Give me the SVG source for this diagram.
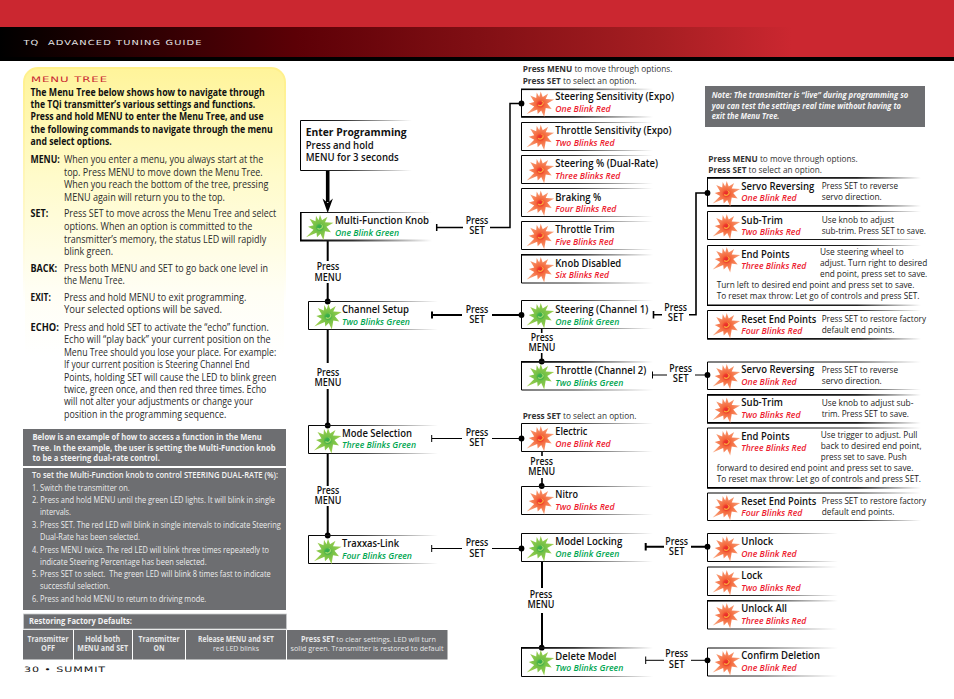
<svg xmlns="http://www.w3.org/2000/svg" width="954" height="699" viewBox="0 0 954 699">
<style>
text{font-family:"Open Sans","Liberation Sans",sans-serif;fill:#1a1a1a}
.x{font-family:"DejaVu Sans","Liberation Sans",sans-serif}
.hd{font-size:7px;fill:#e8e8e8;letter-spacing:.8px}
.mt{font-size:7.6px;fill:#c8242f;letter-spacing:.6px}
.pg{font-size:7.4px;fill:#111;letter-spacing:.6px}
.in{font-size:10.4px;font-weight:700;fill:#111}
.lb{font-size:10px;font-weight:700;fill:#111}
.bd{font-size:10px;fill:#2b2b2b}
.w1{font-size:8.6px;font-weight:700;fill:#f1f1f2}
.w2{font-size:9.6px;fill:#eceded}
.w2b{font-size:9.6px;font-weight:600;fill:#f4f4f4}
.w3{font-size:8px;font-weight:700;fill:#e6e7e8;text-anchor:middle}
.w4{font-size:8px;fill:#e6e7e8;text-anchor:middle}
.w5{font-size:8px;font-weight:700;font-style:italic;fill:#f4f4f4}
.nt{font-size:9px;fill:#333}
.t{font-size:10.2px;font-weight:600;fill:#111}
.t2{font-size:10.2px;font-weight:700;fill:#111}
.s{font-size:9px;font-weight:600;font-style:italic}
.r{fill:#ed1c30}
.g{fill:#00a651}
.d{font-size:8.8px;fill:#222}
.l{font-size:9.8px;font-weight:600;fill:#111;text-anchor:middle}
.fr{fill:none;stroke-width:1}
.f1{stroke:url(#fs)}
.f2{stroke:url(#fl)}
.e1{fill:url(#fs)}
.e2{fill:url(#fl)}
.c{fill:none;stroke:#000}
.dot{fill:#000}
.b{fill:#6d6e71}
</style>
<defs>
<linearGradient id="hdg" x1="0" y1="0" x2="1" y2="0"><stop offset="0" stop-color="#000"/><stop offset=".04" stop-color="#0c0000"/><stop offset=".31" stop-color="#5c0006"/><stop offset=".69" stop-color="#a61e22"/><stop offset=".83" stop-color="#cb2730"/><stop offset="1" stop-color="#cb2730"/></linearGradient>
<linearGradient id="yel" x1="0" y1="0" x2="0" y2="1"><stop offset="0" stop-color="#fff49a"/><stop offset=".3" stop-color="#fffbca"/><stop offset=".62" stop-color="#fffef4"/><stop offset=".8" stop-color="#fff"/></linearGradient>
<linearGradient id="yels" x1="0" y1="0" x2="0" y2="1"><stop offset="0" stop-color="#fff08a"/><stop offset=".4" stop-color="#fff8c8"/><stop offset=".65" stop-color="#fff"/></linearGradient>
<linearGradient id="fs" x1="0" y1="0" x2="1" y2="0"><stop offset="0" stop-color="#000"/><stop offset=".4" stop-color="#333"/><stop offset="1" stop-color="#fff"/></linearGradient>
<linearGradient id="fl" x1="0" y1="0" x2="1" y2="0"><stop offset="0" stop-color="#000"/><stop offset=".7" stop-color="#222"/><stop offset="1" stop-color="#fff"/></linearGradient>
<radialGradient id="rr"><stop offset="0" stop-color="#e8262c"/><stop offset=".18" stop-color="#ee3a2c"/><stop offset=".32" stop-color="#f4683c"/><stop offset="1" stop-color="#f9a27a"/></radialGradient>
<radialGradient id="gg"><stop offset="0" stop-color="#2fa84f"/><stop offset=".18" stop-color="#3fb04a"/><stop offset=".32" stop-color="#72c046"/><stop offset="1" stop-color="#a0d050"/></radialGradient>
<polygon id="spk" points="0,-12 2,-6.5 7.5,-10 5,-4.5 13.5,-4 6.5,0 11,5.5 5,4.5 3.5,13.5 .5,7 -3,10.5 -3.5,6 -14,10.5 -6.5,3 -12,0 -6.5,-1.5 -10.5,-8 -4.5,-5.5 -4,-11 -1.5,-6.5"/>
<g id="br"><use href="#spk" fill="url(#rr)"/><path d="M-2.5,1.5A3,3 0 0 0 2.5,-1" fill="none" stroke="#fbb03b" stroke-width="1.2"/><path d="M1,-2.5l1.5,1.5" stroke="#fbb03b" stroke-width="1"/></g>
<g id="bg"><use href="#spk" fill="url(#gg)"/><path d="M-2.5,1.5A3,3 0 0 0 2.5,-1" fill="none" stroke="#a6d96a" stroke-width="1.2"/><path d="M1,-2.5l1.5,1.5" stroke="#a6d96a" stroke-width="1"/></g>
</defs>
<rect width="954" height="699" fill="#fff"/>
<g id="header">
<rect width="954" height="27" fill="#cb2730"/>
<rect y="27" width="954" height="30" fill="url(#hdg)"/>
<rect y="57" width="954" height="4" fill="#000"/>
<text class="x hd" x="23.5" y="45" xml:space="preserve" textLength="179" lengthAdjust="spacingAndGlyphs">TQ  ADVANCED TUNING GUIDE</text>
</g>
<g id="menu-tree-panel">
<rect x="24" y="68" width="261" height="360" rx="14" fill="url(#yel)" stroke="url(#yels)" stroke-width="2"/>
<text class="x mt" x="31" y="82" textLength="77" lengthAdjust="spacingAndGlyphs">MENU TREE</text>
<text class="in" x="30.5" y="95.5" textLength="234.3" lengthAdjust="spacingAndGlyphs">The Menu Tree below shows how to navigate through</text>
<text class="in" x="30.5" y="107.5" textLength="224.7" lengthAdjust="spacingAndGlyphs">the TQi transmitter’s various settings and functions.</text>
<text class="in" x="30.5" y="120" textLength="233" lengthAdjust="spacingAndGlyphs">Press and hold MENU to enter the Menu Tree, and use</text>
<text class="in" x="30.5" y="132.5" textLength="242.3" lengthAdjust="spacingAndGlyphs">the following commands to navigate through the menu</text>
<text class="in" x="30.5" y="145" textLength="81.3" lengthAdjust="spacingAndGlyphs">and select options.</text>
<text class="lb" x="30.5" y="163" textLength="29.3" lengthAdjust="spacingAndGlyphs">MENU:</text>
<text class="bd" x="64" y="163" textLength="199.3" lengthAdjust="spacingAndGlyphs">When you enter a menu, you always start at the</text>
<text class="bd" x="64" y="176" textLength="198.7" lengthAdjust="spacingAndGlyphs">top. Press MENU to move down the Menu Tree.</text>
<text class="bd" x="64" y="188" textLength="204.3" lengthAdjust="spacingAndGlyphs">When you reach the bottom of the tree, pressing</text>
<text class="bd" x="64" y="200.5" textLength="161" lengthAdjust="spacingAndGlyphs">MENU again will return you to the top.</text>
<text class="lb" x="30.5" y="217" textLength="17.7" lengthAdjust="spacingAndGlyphs">SET:</text>
<text class="bd" x="64" y="217" textLength="212.3" lengthAdjust="spacingAndGlyphs">Press SET to move across the Menu Tree and select</text>
<text class="bd" x="64" y="230" textLength="188.3" lengthAdjust="spacingAndGlyphs">options. When an option is committed to the</text>
<text class="bd" x="64" y="242.5" textLength="202.3" lengthAdjust="spacingAndGlyphs">transmitter’s memory, the status LED will rapidly</text>
<text class="bd" x="64" y="255" textLength="49" lengthAdjust="spacingAndGlyphs">blink green.</text>
<text class="lb" x="30.5" y="271.5" textLength="26.7" lengthAdjust="spacingAndGlyphs">BACK:</text>
<text class="bd" x="64" y="271.5" textLength="204" lengthAdjust="spacingAndGlyphs">Press both MENU and SET to go back one level in</text>
<text class="bd" x="64" y="284" textLength="60.7" lengthAdjust="spacingAndGlyphs">the Menu Tree.</text>
<text class="lb" x="30.5" y="300.7" textLength="20.3" lengthAdjust="spacingAndGlyphs">EXIT:</text>
<text class="bd" x="64" y="300.7" textLength="182.3" lengthAdjust="spacingAndGlyphs">Press and hold MENU to exit programming.</text>
<text class="bd" x="64" y="313.3" textLength="158" lengthAdjust="spacingAndGlyphs">Your selected options will be saved.</text>
<text class="lb" x="30.5" y="330.5" textLength="28.3" lengthAdjust="spacingAndGlyphs">ECHO:</text>
<text class="bd" x="64" y="330.5" textLength="204.7" lengthAdjust="spacingAndGlyphs">Press and hold SET to activate the “echo” function.</text>
<text class="bd" x="64" y="343" textLength="206.7" lengthAdjust="spacingAndGlyphs">Echo will “play back” your current position on the</text>
<text class="bd" x="64" y="355.5" textLength="212.3" lengthAdjust="spacingAndGlyphs">Menu Tree should you lose your place. For example:</text>
<text class="bd" x="64" y="368" textLength="185.7" lengthAdjust="spacingAndGlyphs">If your current position is Steering Channel End</text>
<text class="bd" x="64" y="380.5" textLength="212.3" lengthAdjust="spacingAndGlyphs">Points, holding SET will cause the LED to blink green</text>
<text class="bd" x="64" y="392.5" textLength="202.3" lengthAdjust="spacingAndGlyphs">twice, green once, and then red three times. Echo</text>
<text class="bd" x="64" y="405" textLength="189" lengthAdjust="spacingAndGlyphs">will not alter your adjustments or change your</text>
<text class="bd" x="64" y="417.5" textLength="162.3" lengthAdjust="spacingAndGlyphs">position in the programming sequence.</text>
</g>
<g id="example-intro">
<rect class="b" x="23" y="429" width="263" height="37"/>
<text class="w1" x="32.5" y="440" textLength="229.3" lengthAdjust="spacingAndGlyphs">Below is an example of how to access a function in the Menu</text>
<text class="w1" x="32.5" y="450.5" textLength="243" lengthAdjust="spacingAndGlyphs">Tree. In the example, the user is setting the Multi-Function knob</text>
<text class="w1" x="32.5" y="461" textLength="127.3" lengthAdjust="spacingAndGlyphs">to be a steering dual-rate control.</text>
</g>
<g id="example-steps">
<rect class="b" x="23" y="468" width="263" height="142"/>
<text class="w2b" x="32" y="478" textLength="246" lengthAdjust="spacingAndGlyphs">To set the Multi-Function knob to control STEERING DUAL-RATE (%):</text>
<text class="w2" x="32" y="490.7" textLength="97.7" lengthAdjust="spacingAndGlyphs">1. Switch the transmitter on.</text>
<text class="w2" x="32" y="502.7" textLength="243" lengthAdjust="spacingAndGlyphs">2. Press and hold MENU until the green LED lights. It will blink in single</text>
<text class="w2" x="40" y="515" textLength="31" lengthAdjust="spacingAndGlyphs">intervals.</text>
<text class="w2" x="32" y="527.7" textLength="248.7" lengthAdjust="spacingAndGlyphs">3. Press SET. The red LED will blink in single intervals to indicate Steering</text>
<text class="w2" x="40" y="540" textLength="100" lengthAdjust="spacingAndGlyphs">Dual-Rate has been selected.</text>
<text class="w2" x="32" y="552.7" textLength="237" lengthAdjust="spacingAndGlyphs">4. Press MENU twice. The red LED will blink three times repeatedly to</text>
<text class="w2" x="40" y="564.7" textLength="166.7" lengthAdjust="spacingAndGlyphs">indicate Steering Percentage has been selected.</text>
<text class="w2" x="32" y="577.3" textLength="238.7" lengthAdjust="spacingAndGlyphs" xml:space="preserve">5. Press SET to select.  The green LED will blink 8 times fast to indicate</text>
<text class="w2" x="40" y="589.3" textLength="70" lengthAdjust="spacingAndGlyphs">successful selection.</text>
<text class="w2" x="32" y="602.3" textLength="174.3" lengthAdjust="spacingAndGlyphs">6. Press and hold MENU to return to driving mode.</text>
</g>
<g id="factory-defaults">
<rect class="b" x="23.5" y="614" width="263" height="15" stroke="#c9cacc" stroke-width=".8"/>
<text class="w1" x="29" y="623.5" style="font-size:8.2px" textLength="103" lengthAdjust="spacingAndGlyphs">Restoring Factory Defaults:</text>
<rect class="b" x="23" y="630" width="50" height="29.5"/>
<rect class="b" x="74" y="630" width="58" height="29.5"/>
<rect class="b" x="133" y="630" width="52" height="29.5"/>
<rect class="b" x="186" y="630" width="100" height="29.5"/>
<rect class="b" x="287" y="630" width="160.5" height="29.5"/>
<text class="w3" x="48" y="641.5" textLength="41" lengthAdjust="spacingAndGlyphs">Transmitter</text>
<text class="w3" x="48" y="650.5" textLength="14" lengthAdjust="spacingAndGlyphs">OFF</text>
<text class="w3" x="102.7" y="641.5" textLength="35" lengthAdjust="spacingAndGlyphs">Hold both</text>
<text class="w3" x="102.7" y="650.5" textLength="51" lengthAdjust="spacingAndGlyphs">MENU and SET</text>
<text class="w3" x="159" y="641.5" textLength="41" lengthAdjust="spacingAndGlyphs">Transmitter</text>
<text class="w3" x="159" y="650.5" textLength="11" lengthAdjust="spacingAndGlyphs">ON</text>
<text class="w3" x="236" y="641.5" textLength="76" lengthAdjust="spacingAndGlyphs">Release MENU and SET</text>
<text class="w4" x="236" y="650.5" textLength="46" lengthAdjust="spacingAndGlyphs">red LED blinks</text>
<text class="w4" x="368.5" y="641.5" textLength="135" lengthAdjust="spacingAndGlyphs"><tspan font-weight="700">Press SET</tspan> to clear settings. LED will turn</text>
<text class="w4" x="367" y="650.5" textLength="153" lengthAdjust="spacingAndGlyphs">solid green. Transmitter is restored to default</text>
</g>
<text id="page-number" class="x pg" x="24" y="671.7" textLength="82" lengthAdjust="spacingAndGlyphs">30 • SUMMIT</text>
<g id="note">
<rect class="b" x="705" y="86" width="220" height="41"/>
<text class="w5" x="711.7" y="98" textLength="196.7" lengthAdjust="spacingAndGlyphs">Note: The transmitter is “live” during programming so</text>
<text class="w5" x="711.7" y="108.7" textLength="189.3" lengthAdjust="spacingAndGlyphs">you can test the settings real time without having to</text>
<text class="w5" x="711.7" y="118.7" textLength="67.7" lengthAdjust="spacingAndGlyphs">exit the Menu Tree.</text>
</g>
<g id="hints">
<text class="nt" x="522.7" y="71.7" textLength="149.7" lengthAdjust="spacingAndGlyphs"><tspan font-weight="700">Press MENU</tspan> to move through options.</text>
<text class="nt" x="522.7" y="83.7" textLength="113.7" lengthAdjust="spacingAndGlyphs"><tspan font-weight="700">Press SET</tspan> to select an option.</text>
<text class="nt" x="708.3" y="161.7" textLength="149.3" lengthAdjust="spacingAndGlyphs"><tspan font-weight="700">Press MENU</tspan> to move through options.</text>
<text class="nt" x="708.3" y="172.7" textLength="113.7" lengthAdjust="spacingAndGlyphs"><tspan font-weight="700">Press SET</tspan> to select an option.</text>
<text class="nt" x="522.7" y="418.7" textLength="113.7" lengthAdjust="spacingAndGlyphs"><tspan font-weight="700">Press SET</tspan> to select an option.</text>
</g>
<g id="connectors">
<path class="c" stroke-width="3.6" d="M327.7,170V202"/>
<polygon class="dot" points="322.5,198.5 327.7,203 332.9,198.5 327.7,213"/>
<path class="c" stroke-width="2" d="M327.7,240V261M327.7,283V301M327.7,329V363M327.7,389V425M327.7,453V486M327.7,506V535"/>
<circle class="dot" cx="327.7" cy="301.5" r="2.9"/><circle class="dot" cx="327.7" cy="425.5" r="2.9"/><circle class="dot" cx="327.7" cy="535.5" r="2.9"/>
<path class="c" stroke-width="1.5" stroke="#333" d="M436.7,224V231M437,227.4H463M490,227.4H510V103.4H521"/>
<circle class="dot" cx="521.5" cy="103.4" r="2.9"/>
<path class="c" stroke-width="2" d="M432,311.5V318.5M432,315H462M492,315H521"/>
<circle class="dot" cx="521.5" cy="315" r="2.9"/>
<path class="c" stroke-width="1" d="M431.7,435V442M432,438.5H462M492,438.5H521"/>
<circle class="dot" cx="521.5" cy="438.5" r="2.9"/>
<path class="c" stroke-width="1" d="M431.7,545V552M432,548.5H462M492,548.5H521"/>
<circle class="dot" cx="521.5" cy="548.5" r="2.9"/>
<path class="c" stroke-width="1.6" d="M541.7,329V333M541.7,353V361"/>
<circle class="dot" cx="541.7" cy="361.5" r="2.9"/>
<path class="c" stroke-width="1.6" d="M542,451.7V456M542,478V486"/>
<circle class="dot" cx="541.7" cy="486" r="2.9"/>
<path class="c" stroke-width="2" d="M542,561.7V588M542,613V647"/>
<circle class="dot" cx="541.7" cy="647.7" r="2.9"/>
<path class="c" stroke-width="1.6" d="M653.5,311V318.5M653.5,314.7H662M689,314.7H696V193H707"/>
<circle class="dot" cx="707.5" cy="193" r="2.9"/>
<path class="c" stroke-width="1" d="M652.5,371.5V378.5M652.5,375H667M695,375H707"/>
<circle class="dot" cx="707.5" cy="375" r="2.9"/>
<path class="c" stroke-width="2" d="M645.7,543V550.5M645.7,546.7H664M691,546.7H707"/>
<circle class="dot" cx="707.5" cy="546.7" r="2.9"/>
<path class="c" stroke-width="1" d="M645.7,656.5V664M645.7,660.3H664M691,660.3H707"/>
<circle class="dot" cx="707.5" cy="660.3" r="2.9"/>
</g>
<g id="connector-labels">
<text class="l" x="477" y="224" textLength="22.7" lengthAdjust="spacingAndGlyphs">Press</text><text class="l" x="477" y="234.3" textLength="15.7" lengthAdjust="spacingAndGlyphs">SET</text>
<text class="l" x="477" y="313.3" textLength="22.7" lengthAdjust="spacingAndGlyphs">Press</text><text class="l" x="477" y="323.3" textLength="15.7" lengthAdjust="spacingAndGlyphs">SET</text>
<text class="l" x="477" y="436.3" textLength="22.7" lengthAdjust="spacingAndGlyphs">Press</text><text class="l" x="477" y="446.3" textLength="15.7" lengthAdjust="spacingAndGlyphs">SET</text>
<text class="l" x="477" y="546.3" textLength="22.7" lengthAdjust="spacingAndGlyphs">Press</text><text class="l" x="477" y="556.7" textLength="15.7" lengthAdjust="spacingAndGlyphs">SET</text>
<text class="l" x="328" y="270.3" textLength="22.7" lengthAdjust="spacingAndGlyphs">Press</text><text class="l" x="328" y="280.7" textLength="27" lengthAdjust="spacingAndGlyphs">MENU</text>
<text class="l" x="328" y="376" textLength="22.7" lengthAdjust="spacingAndGlyphs">Press</text><text class="l" x="328" y="385.7" textLength="27" lengthAdjust="spacingAndGlyphs">MENU</text>
<text class="l" x="328" y="494" textLength="22.7" lengthAdjust="spacingAndGlyphs">Press</text><text class="l" x="328" y="503.7" textLength="27" lengthAdjust="spacingAndGlyphs">MENU</text>
<text class="l" x="542" y="340.7" textLength="22.7" lengthAdjust="spacingAndGlyphs">Press</text><text class="l" x="542" y="351" textLength="27" lengthAdjust="spacingAndGlyphs">MENU</text>
<text class="l" x="541.7" y="465" textLength="22.7" lengthAdjust="spacingAndGlyphs">Press</text><text class="l" x="541.7" y="474.7" textLength="27" lengthAdjust="spacingAndGlyphs">MENU</text>
<text class="l" x="541" y="598" textLength="22.7" lengthAdjust="spacingAndGlyphs">Press</text><text class="l" x="541" y="607.7" textLength="27" lengthAdjust="spacingAndGlyphs">MENU</text>
<text class="l" x="675.7" y="311" textLength="22.7" lengthAdjust="spacingAndGlyphs">Press</text><text class="l" x="675.7" y="321" textLength="15.7" lengthAdjust="spacingAndGlyphs">SET</text>
<text class="l" x="680.7" y="372" textLength="22.7" lengthAdjust="spacingAndGlyphs">Press</text><text class="l" x="680.7" y="382" textLength="15.7" lengthAdjust="spacingAndGlyphs">SET</text>
<text class="l" x="676.7" y="545" textLength="22.7" lengthAdjust="spacingAndGlyphs">Press</text><text class="l" x="676.7" y="554.7" textLength="15.7" lengthAdjust="spacingAndGlyphs">SET</text>
<text class="l" x="676.7" y="657" textLength="22.7" lengthAdjust="spacingAndGlyphs">Press</text><text class="l" x="676.7" y="667.7" textLength="15.7" lengthAdjust="spacingAndGlyphs">SET</text>
</g>
<g id="node-enter-programming">
<path class="fr f1" d="M412,120.5H300.5V170.5H412"/>
<text class="t2" x="305.7" y="136" style="font-size:11px" textLength="101" lengthAdjust="spacingAndGlyphs">Enter Programming</text>
<text class="t" x="305.7" y="149" textLength="68" lengthAdjust="spacingAndGlyphs">Press and hold</text>
<text class="t" x="305.7" y="161" textLength="93" lengthAdjust="spacingAndGlyphs">MENU for 3 seconds</text>
</g>
<g id="node-multi-function">
<path class="fr f1" d="M432,212.5H300.5V240.5H432"/><rect class="e1" x="300" y="239.5" width="132" height="2"/><rect x="300" y="212" width="1.6" height="29"/>
<use href="#bg" x="320" y="226.7"/>
<text class="t" x="335" y="224.3" textLength="94" lengthAdjust="spacingAndGlyphs">Multi-Function Knob</text>
<text class="s g" x="335" y="235.7" textLength="64" lengthAdjust="spacingAndGlyphs">One Blink Green</text>
</g>
<g id="node-channel-setup">
<path class="fr f1" d="M438,301.5H308.5V329.5H438"/>
<use href="#bg" x="328.3" y="316"/>
<text class="t" x="342" y="313.3" textLength="67" lengthAdjust="spacingAndGlyphs">Channel Setup</text>
<text class="s g" x="342" y="325" textLength="68" lengthAdjust="spacingAndGlyphs">Two Blinks Green</text>
</g>
<g id="node-mode-selection">
<path class="fr f1" d="M438,425.5H308.5V453.5H438"/>
<use href="#bg" x="328" y="440"/>
<text class="t" x="342" y="437.3" textLength="70" lengthAdjust="spacingAndGlyphs">Mode Selection</text>
<text class="s g" x="342" y="448.3" textLength="74" lengthAdjust="spacingAndGlyphs">Three Blinks Green</text>
</g>
<g id="node-traxxas-link">
<path class="fr f1" d="M438,535.5H308.5V563.5H438"/>
<use href="#bg" x="328" y="550.7"/>
<text class="t" x="342" y="547.3" textLength="57" lengthAdjust="spacingAndGlyphs">Traxxas-Link</text>
<text class="s g" x="342" y="559" textLength="70" lengthAdjust="spacingAndGlyphs">Four Blinks Green</text>
</g>
<g id="node-steering-sensitivity">
<path class="fr f1" d="M653,89.5H521.5V117H653"/><rect class="e1" x="521" y="88.5" width="132" height="1.6"/><rect class="e1" x="521" y="116" width="132" height="1.6"/>
<use href="#br" x="540.7" y="103.4"/>
<text class="t" x="555.3" y="100" textLength="118.7" lengthAdjust="spacingAndGlyphs">Steering Sensitivity (Expo)</text>
<text class="s r" x="555.3" y="112" textLength="55.3" lengthAdjust="spacingAndGlyphs">One Blink Red</text>
</g>
<g id="node-throttle-sensitivity">
<path class="fr f1" d="M653,122.5H521.5V150.5H653"/>
<use href="#br" x="540.7" y="136.7"/>
<text class="t" x="555.3" y="134" textLength="116.3" lengthAdjust="spacingAndGlyphs">Throttle Sensitivity (Expo)</text>
<text class="s r" x="555.3" y="145.5" textLength="59.3" lengthAdjust="spacingAndGlyphs">Two Blinks Red</text>
</g>
<g id="node-steering-percent">
<path class="fr f1" d="M653,155.5H521.5V183.5H653"/>
<use href="#br" x="540.7" y="170"/>
<text class="t" x="555.3" y="167" textLength="102.7" lengthAdjust="spacingAndGlyphs">Steering % (Dual-Rate)</text>
<text class="s r" x="555.3" y="179" textLength="65" lengthAdjust="spacingAndGlyphs">Three Blinks Red</text>
</g>
<g id="node-braking">
<path class="fr f1" d="M653,188.5H521.5V216.5H653"/>
<use href="#br" x="540.7" y="202.5"/>
<text class="t" x="555.3" y="200.5" textLength="46" lengthAdjust="spacingAndGlyphs">Braking %</text>
<text class="s r" x="555.3" y="211.5" textLength="61" lengthAdjust="spacingAndGlyphs">Four Blinks Red</text>
</g>
<g id="node-throttle-trim">
<path class="fr f1" d="M653,221.5H521.5V249.5H653"/>
<use href="#br" x="540.7" y="235.7"/>
<text class="t" x="555.3" y="233" textLength="59.3" lengthAdjust="spacingAndGlyphs">Throttle Trim</text>
<text class="s r" x="555.3" y="245" textLength="58.3" lengthAdjust="spacingAndGlyphs">Five Blinks Red</text>
</g>
<g id="node-knob-disabled">
<path class="fr f1" d="M653,254.5H521.5V283H653"/><rect class="e1" x="521" y="254" width="132" height="1.6"/>
<use href="#br" x="540.7" y="269"/>
<text class="t" x="555.3" y="266.5" textLength="66" lengthAdjust="spacingAndGlyphs">Knob Disabled</text>
<text class="s r" x="555.3" y="278" textLength="53.7" lengthAdjust="spacingAndGlyphs">Six Blinks Red</text>
</g>
<g id="node-steering-channel">
<path class="fr f1" d="M653,300.5H521.5V328.5H653"/>
<use href="#bg" x="540.7" y="315"/>
<text class="t" x="555.3" y="312.5" textLength="93" lengthAdjust="spacingAndGlyphs">Steering (Channel 1)</text>
<text class="s g" x="555.3" y="324.5" textLength="64" lengthAdjust="spacingAndGlyphs">One Blink Green</text>
</g>
<g id="node-throttle-channel">
<path class="fr f1" d="M653,362H521.5V390H653"/><rect class="e1" x="521" y="361" width="132" height="1.6"/>
<use href="#bg" x="540.7" y="376"/>
<text class="t" x="555.3" y="373.5" textLength="91" lengthAdjust="spacingAndGlyphs">Throttle (Channel 2)</text>
<text class="s g" x="555.3" y="385.5" textLength="68" lengthAdjust="spacingAndGlyphs">Two Blinks Green</text>
</g>
<g id="node-electric">
<path class="fr f1" d="M653,423.5H521.5V451.5H653"/>
<use href="#br" x="540.7" y="438"/>
<text class="t" x="555.3" y="435" textLength="32" lengthAdjust="spacingAndGlyphs">Electric</text>
<text class="s r" x="555.3" y="447" textLength="55.3" lengthAdjust="spacingAndGlyphs">One Blink Red</text>
</g>
<g id="node-nitro">
<path class="fr f1" d="M653,486.5H521.5V514.5H653"/>
<use href="#br" x="540.7" y="501"/>
<text class="t" x="555.3" y="498" textLength="22.7" lengthAdjust="spacingAndGlyphs">Nitro</text>
<text class="s r" x="555.3" y="510" textLength="59.3" lengthAdjust="spacingAndGlyphs">Two Blinks Red</text>
</g>
<g id="node-model-locking">
<path class="fr f1" d="M653,533.5H521.5V561.5H653"/>
<use href="#bg" x="540.7" y="548"/>
<text class="t" x="555.3" y="545" textLength="67" lengthAdjust="spacingAndGlyphs">Model Locking</text>
<text class="s g" x="555.3" y="557" textLength="64" lengthAdjust="spacingAndGlyphs">One Blink Green</text>
</g>
<g id="node-delete-model">
<path class="fr f1" d="M653,648H521.5V676.5H653"/><rect class="e1" x="521" y="647" width="132" height="1.6"/>
<use href="#bg" x="540.7" y="662"/>
<text class="t" x="555.3" y="660" textLength="61" lengthAdjust="spacingAndGlyphs">Delete Model</text>
<text class="s g" x="555.3" y="671" textLength="68" lengthAdjust="spacingAndGlyphs">Two Blinks Green</text>
</g>
<g id="node-servo-1">
<path class="fr f2" d="M921,178H707.5V206H921"/><rect class="e2" x="707" y="177" width="214" height="1.6"/><rect class="e2" x="707" y="205" width="214" height="1.6"/>
<use href="#br" x="726.7" y="193"/>
<text class="t" x="741.3" y="189.5" textLength="73" lengthAdjust="spacingAndGlyphs">Servo Reversing</text>
<text class="s r" x="741.3" y="201" textLength="55.3" lengthAdjust="spacingAndGlyphs">One Blink Red</text>
<text class="d" x="821.7" y="189" textLength="76.3" lengthAdjust="spacingAndGlyphs">Press SET to reverse</text>
<text class="d" x="821.7" y="200" textLength="60" lengthAdjust="spacingAndGlyphs">servo direction.</text>
</g>
<g id="node-subtrim-1">
<path class="fr f2" d="M921,211.5H707.5V239.5H921"/>
<use href="#br" x="726.7" y="226"/>
<text class="t" x="741.3" y="223.5" textLength="41.7" lengthAdjust="spacingAndGlyphs">Sub-Trim</text>
<text class="s r" x="741.3" y="235" textLength="59.3" lengthAdjust="spacingAndGlyphs">Two Blinks Red</text>
<text class="d" x="821.7" y="223.3" textLength="72.3" lengthAdjust="spacingAndGlyphs">Use knob to adjust</text>
<text class="d" x="821.7" y="234" textLength="104.3" lengthAdjust="spacingAndGlyphs">sub-trim. Press SET to save.</text>
</g>
<g id="node-endpoints-1">
<path class="fr f2" d="M921,245.5H707.5V305.5H921"/><rect class="e2" x="707" y="304.5" width="214" height="1.5"/>
<use href="#br" x="726.7" y="259"/>
<text class="t" x="741.3" y="257.5" textLength="48.3" lengthAdjust="spacingAndGlyphs">End Points</text>
<text class="s r" x="741.3" y="269" textLength="65" lengthAdjust="spacingAndGlyphs">Three Blinks Red</text>
<text class="d" x="820" y="255" textLength="83.7" lengthAdjust="spacingAndGlyphs">Use steering wheel to</text>
<text class="d" x="820" y="266" textLength="107.3" lengthAdjust="spacingAndGlyphs">adjust. Turn right to desired</text>
<text class="d" x="820" y="277" textLength="107.3" lengthAdjust="spacingAndGlyphs">end point, press set to save.</text>
<text class="d" x="716.7" y="287.7" textLength="197.7" lengthAdjust="spacingAndGlyphs">Turn left to desired end point and press set to save.</text>
<text class="d" x="716.7" y="298.7" textLength="202.7" lengthAdjust="spacingAndGlyphs">To reset max throw: Let go of controls and press SET.</text>
</g>
<g id="node-reset-1">
<path class="fr f2" d="M921,310.5H707.5V339H921"/><rect class="e2" x="707" y="338" width="214" height="1.5"/>
<use href="#br" x="726.7" y="325"/>
<text class="t" x="741.3" y="322.5" textLength="75" lengthAdjust="spacingAndGlyphs">Reset End Points</text>
<text class="s r" x="741.3" y="334" textLength="61" lengthAdjust="spacingAndGlyphs">Four Blinks Red</text>
<text class="d" x="821.7" y="322" textLength="104.3" lengthAdjust="spacingAndGlyphs">Press SET to restore factory</text>
<text class="d" x="821.7" y="333" textLength="72.7" lengthAdjust="spacingAndGlyphs">default end points.</text>
</g>
<g id="node-servo-2">
<path class="fr f2" d="M921,362H707.5V389.5H921"/>
<use href="#br" x="726.7" y="376"/>
<text class="t" x="741.3" y="373" textLength="73" lengthAdjust="spacingAndGlyphs">Servo Reversing</text>
<text class="s r" x="741.3" y="385" textLength="55.3" lengthAdjust="spacingAndGlyphs">One Blink Red</text>
<text class="d" x="821.7" y="373" textLength="76.3" lengthAdjust="spacingAndGlyphs">Press SET to reverse</text>
<text class="d" x="821.7" y="384" textLength="60" lengthAdjust="spacingAndGlyphs">servo direction.</text>
</g>
<g id="node-subtrim-2">
<path class="fr f2" d="M921,395H707.5V423H921"/><rect class="e2" x="707" y="394" width="214" height="1.6"/><rect class="e2" x="707" y="422" width="214" height="1.6"/>
<use href="#br" x="726.7" y="409.5"/>
<text class="t" x="741.3" y="406" textLength="41.7" lengthAdjust="spacingAndGlyphs">Sub-Trim</text>
<text class="s r" x="741.3" y="418" textLength="59.3" lengthAdjust="spacingAndGlyphs">Two Blinks Red</text>
<text class="d" x="821.7" y="406" textLength="91.7" lengthAdjust="spacingAndGlyphs">Use knob to adjust sub-</text>
<text class="d" x="821.7" y="417" textLength="87.3" lengthAdjust="spacingAndGlyphs">trim. Press SET to save.</text>
</g>
<g id="node-endpoints-2">
<path class="fr f2" d="M921,428H707.5V488H921"/><rect class="e2" x="707" y="487" width="214" height="1.6"/>
<use href="#br" x="726.7" y="442"/>
<text class="t" x="741.3" y="439.5" textLength="48.3" lengthAdjust="spacingAndGlyphs">End Points</text>
<text class="s r" x="741.3" y="451" textLength="65" lengthAdjust="spacingAndGlyphs">Three Blinks Red</text>
<text class="d" x="820.7" y="438" textLength="96.7" lengthAdjust="spacingAndGlyphs">Use trigger to adjust. Pull</text>
<text class="d" x="820.7" y="449" textLength="101" lengthAdjust="spacingAndGlyphs">back to desired end point,</text>
<text class="d" x="820.7" y="460" textLength="86" lengthAdjust="spacingAndGlyphs">press set to save. Push</text>
<text class="d" x="716.7" y="471" textLength="196.7" lengthAdjust="spacingAndGlyphs">forward to desired end point and press set to save.</text>
<text class="d" x="716.7" y="482" textLength="204.3" lengthAdjust="spacingAndGlyphs">To reset max throw: Let go of controls and press SET.</text>
</g>
<g id="node-reset-2">
<path class="fr f2" d="M921,493H707.5V520.5H921"/>
<use href="#br" x="726.7" y="507"/>
<text class="t" x="741.3" y="504.5" textLength="75" lengthAdjust="spacingAndGlyphs">Reset End Points</text>
<text class="s r" x="741.3" y="516" textLength="61" lengthAdjust="spacingAndGlyphs">Four Blinks Red</text>
<text class="d" x="821.7" y="503.7" textLength="104.3" lengthAdjust="spacingAndGlyphs">Press SET to restore factory</text>
<text class="d" x="821.7" y="515" textLength="72.7" lengthAdjust="spacingAndGlyphs">default end points.</text>
</g>
<g id="node-unlock">
<path class="fr f1" d="M838,533.5H707.5V561.5H838"/>
<use href="#br" x="726.7" y="548"/>
<text class="t" x="741.3" y="545" textLength="32" lengthAdjust="spacingAndGlyphs">Unlock</text>
<text class="s r" x="741.3" y="557" textLength="55.3" lengthAdjust="spacingAndGlyphs">One Blink Red</text>
</g>
<g id="node-lock">
<path class="fr f1" d="M838,567H707.5V595.5H838"/>
<use href="#br" x="726.7" y="582"/>
<text class="t" x="741.3" y="579" textLength="21.3" lengthAdjust="spacingAndGlyphs">Lock</text>
<text class="s r" x="741.3" y="591" textLength="59.3" lengthAdjust="spacingAndGlyphs">Two Blinks Red</text>
</g>
<g id="node-unlock-all">
<path class="fr f1" d="M838,600.5H707.5V629H838"/><rect class="e1" x="707" y="600" width="131" height="1.6"/>
<use href="#br" x="726.7" y="615"/>
<text class="t" x="741.3" y="612" textLength="45.7" lengthAdjust="spacingAndGlyphs">Unlock All</text>
<text class="s r" x="741.3" y="624" textLength="65" lengthAdjust="spacingAndGlyphs">Three Blinks Red</text>
</g>
<g id="node-confirm-deletion">
<path class="fr f1" d="M838,648H707.5V676H838"/>
<use href="#br" x="726.7" y="662"/>
<text class="t" x="741.3" y="659" textLength="78.7" lengthAdjust="spacingAndGlyphs">Confirm Deletion</text>
<text class="s r" x="741.3" y="670.5" textLength="55.3" lengthAdjust="spacingAndGlyphs">One Blink Red</text>
</g>
</svg>
